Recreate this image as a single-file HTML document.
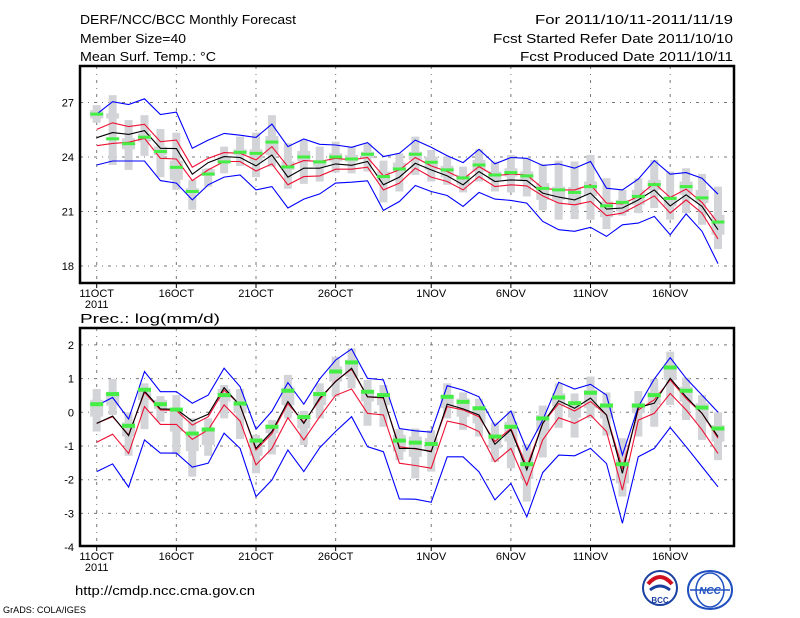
<!DOCTYPE html>
<html><head><meta charset="utf-8"><style>
html,body{margin:0;padding:0;background:#fff;}
svg{display:block;font-family:"Liberation Sans",sans-serif;}
</style></head><body>
<svg id="c" width="800" height="618" viewBox="0 0 800 618" xmlns="http://www.w3.org/2000/svg">
<rect width="800" height="618" fill="#fff"/>
<text x="80" y="24" font-size="13" textLength="216" lengthAdjust="spacingAndGlyphs">DERF/NCC/BCC Monthly Forecast</text>
<text x="80" y="43" font-size="13" textLength="106" lengthAdjust="spacingAndGlyphs">Member Size=40</text>
<text x="80" y="61" font-size="13" textLength="136" lengthAdjust="spacingAndGlyphs">Mean Surf. Temp.: °C</text>
<text x="535" y="24" font-size="13" textLength="198" lengthAdjust="spacingAndGlyphs">For 2011/10/11-2011/11/19</text>
<text x="493" y="43" font-size="13" textLength="240" lengthAdjust="spacingAndGlyphs">Fcst Started Refer Date 2011/10/10</text>
<text x="520" y="61" font-size="13" textLength="213" lengthAdjust="spacingAndGlyphs">Fcst Produced Date 2011/10/11</text>
<text x="80" y="323" font-size="13" textLength="140" lengthAdjust="spacingAndGlyphs">Prec.: log(mm/d)</text>
<text x="75" y="595" font-size="13" textLength="180" lengthAdjust="spacingAndGlyphs">http://cmdp.ncc.cma.gov.cn</text>
<text x="3" y="613" font-size="9" textLength="83" lengthAdjust="spacingAndGlyphs">GrADS: COLA/IGES</text>
<g>
<circle cx="660" cy="588" r="17" fill="#fff" stroke="#1a3fa0" stroke-width="2"/>
<path d="M648 584 q12 -14 24 0" fill="none" stroke="#d01020" stroke-width="4"/>
<path d="M650 590 q10 -8 20 0" fill="none" stroke="#1a3fa0" stroke-width="3"/>
<text x="660" y="603" font-size="8" font-weight="bold" text-anchor="middle" fill="#1a3fa0">BCC</text>
</g>
<g>
<ellipse cx="710" cy="590" rx="22" ry="19" fill="#fff" stroke="#2050c0" stroke-width="2"/>
<ellipse cx="710" cy="590" rx="14" ry="17" fill="none" stroke="#2050c0" stroke-width="1.5"/>
<line x1="690" y1="590" x2="730" y2="590" stroke="#2050c0" stroke-width="1.5"/>
<text x="710" y="594" font-size="10" font-weight="bold" font-style="italic" text-anchor="middle" fill="#2050c0">NCC</text>
</g>
</svg>
<script>
// ---------- temperature data ----------
const tBlueUp=[26.36,27.04,26.89,27.2,26.34,26.47,24.48,24.93,25.3,25.2,25.08,25.81,24.57,24.99,24.7,24.66,24.53,24.79,24.02,24.2,24.93,24.53,24.07,23.69,24.42,23.62,23.97,23.93,23.53,23.62,23.38,23.75,22.28,22.19,22.78,23.8,23.05,23.14,22.83,21.95];
const tRedUp=[25.52,25.88,25.67,25.8,24.84,24.93,23.44,23.93,24.24,24.2,23.84,24.57,23.47,23.8,23.75,23.93,23.84,23.97,22.96,23.29,23.97,23.51,23.2,22.78,23.47,22.96,23.07,23.01,22.28,22.19,22.19,22.47,21.46,21.42,21.83,22.56,21.77,22.23,21.5,20.36];
const tMean=[25.06,25.34,25.24,25.45,24.48,24.46,23.05,23.69,24.02,23.97,23.51,24.11,22.89,23.38,23.38,23.62,23.54,23.75,22.47,22.89,23.65,23.29,22.96,22.47,23.2,22.65,22.74,22.7,22.01,21.79,21.64,22.01,21.13,21.19,21.64,22.19,21.31,21.92,21.28,20.0];
const tRedLow=[24.62,24.75,24.81,25.03,23.93,23.89,22.7,23.29,23.75,23.75,23.23,23.62,22.47,22.92,22.96,23.33,23.33,23.44,22.19,22.56,23.38,22.89,22.65,22.19,22.92,22.37,22.47,22.41,21.86,21.46,21.37,21.55,20.77,20.91,21.37,21.86,20.91,21.64,20.91,19.49];
const tBlueLow=[23.56,23.78,23.78,23.78,22.7,22.56,21.64,22.47,22.89,23.01,22.19,22.37,21.19,21.68,21.97,22.56,22.61,22.69,21.06,21.55,22.43,22.1,21.88,21.28,22.05,21.68,21.61,21.46,20.46,20.0,19.91,20.13,19.63,20.27,20.36,20.73,19.72,20.87,19.91,18.13];
const tGreen=[26.36,25.0,24.73,25.09,24.3,23.43,22.1,23.06,23.73,24.26,24.2,24.82,23.45,24.0,23.73,24.0,23.89,24.15,22.92,23.34,24.15,23.71,23.29,22.85,23.56,23.01,23.14,22.96,22.27,22.19,22.05,22.37,21.31,21.5,21.83,22.48,21.72,22.37,21.75,20.42];
const tMax=[26.85,27.4,26.03,26.3,25.54,25.34,22.74,23.38,24.57,25.12,25.34,26.3,24.75,24.93,24.57,24.84,24.57,24.75,23.8,24.2,25.12,24.39,24.02,23.47,24.42,23.75,24.11,23.93,23.62,23.8,23.75,24.11,22.83,22.19,22.83,23.84,23.2,23.38,23.07,22.37];
const tMin=[25.88,23.56,23.29,24.06,22.89,22.19,21.1,22.37,23.1,23.51,22.89,23.47,22.25,22.52,22.65,23.14,23.1,23.2,21.5,22.1,23.01,22.65,22.47,22.05,22.65,22.1,22.05,21.83,21.06,20.55,20.58,20.55,20.03,20.77,20.91,21.19,20.55,20.91,20.27,18.94];
const tQ3=[26.58,26.4,25.03,25.3,24.57,23.8,22.28,23.33,24.02,24.42,24.42,25.15,23.75,24.33,23.84,24.2,24.11,24.29,23.2,23.69,24.29,24.02,23.51,23.01,23.84,23.2,23.38,23.2,22.56,22.37,22.34,22.65,21.55,21.64,22.19,22.74,21.83,22.65,22.19,20.82];
const tQ1=[26.12,26.12,24.42,24.84,24.11,22.74,22.0,22.96,23.69,24.11,23.75,24.11,23.29,23.75,23.47,23.75,23.75,23.93,22.65,23.2,23.84,23.29,22.89,22.47,23.2,22.74,22.92,22.65,21.64,21.64,21.37,21.86,20.69,21.0,21.37,22.19,21.28,21.92,21.46,19.72];
const tTicks=[18,21,24,27];
// ---------- precipitation data ----------
const pBlueUp=[0.2,0.44,-0.2,1.21,0.61,0.61,0.27,0.51,1.31,0.76,-0.5,0.03,0.88,0.24,0.99,1.55,1.88,1.01,0.96,-0.48,-0.55,-0.59,0.79,0.66,0.46,-0.4,0.04,-1.12,-0.23,0.89,0.69,0.83,0.51,-1.27,0.17,0.99,1.62,1.01,0.51,0];
const pRedUp=[-0.33,-0.13,-0.67,0.59,0.07,0.05,-0.38,-0.13,0.66,0.22,-1.12,-0.63,0.26,-0.3,0.37,0.93,1.28,0.46,0.42,-1.02,-1.09,-1.15,0.17,0.07,-0.13,-0.87,-0.48,-1.61,-0.33,0.26,0.04,0.32,-0.08,-1.66,0.07,0.37,0.96,0.41,-0.03,-0.77];
const pMean=[-0.33,-0.11,-0.69,0.63,0.1,0.09,-0.26,-0.06,0.73,0.2,-1.07,-0.57,0.32,-0.33,0.42,0.91,1.31,0.46,0.44,-1.07,-1.07,-1.17,0.24,0.1,-0.08,-0.95,-0.52,-1.71,-0.33,0.34,0.12,0.42,-0.08,-1.81,0.14,0.27,1.01,0.46,-0.03,-0.72];
const pRedLow=[-0.89,-0.65,-1.22,0.17,-0.36,-0.36,-0.8,-0.52,0.22,-0.26,-1.56,-1.07,-0.16,-0.82,-0.13,0.5,0.69,-0.03,-0.08,-1.51,-1.58,-1.66,-0.26,-0.36,-0.57,-1.47,-1.07,-2.16,-0.82,-0.16,-0.33,-0.08,-0.57,-2.31,-0.23,-0.03,0.56,0.07,-0.52,-1.22];
const pBlueLow=[-1.76,-1.53,-2.22,-0.82,-1.21,-1.21,-1.63,-1.51,-0.62,-1.07,-2.5,-2.01,-1.12,-1.76,-1.05,-0.57,-0.13,-1.02,-1.17,-2.57,-2.58,-2.67,-1.32,-1.32,-1.77,-2.6,-2.11,-3.1,-1.79,-1.27,-1.29,-1.07,-1.52,-3.29,-1.32,-1.07,-0.45,-1.02,-1.61,-2.21];
const pGreen=[0.24,0.54,-0.4,0.67,0.24,0.08,-0.63,-0.51,0.51,0.26,-0.84,-0.43,0.64,-0.14,0.54,1.21,1.48,0.61,0.51,-0.84,-0.9,-0.94,0.46,0.31,0.12,-0.72,-0.43,-1.54,-0.18,0.44,0.27,0.58,0.2,-1.54,0.2,0.51,1.33,0.64,0.14,-0.48];
const pMax=[0.69,0.99,0,0.86,0.48,0.51,-0.18,-0.18,0.81,0.69,-0.67,-0.23,1.11,0.04,0.86,1.65,1.9,0.96,0.81,-0.5,-0.48,-0.53,0.86,0.59,0.4,-0.3,0.04,-0.95,0.2,0.86,0.56,1.06,0.59,-0.77,0.63,0.99,1.8,1.03,0.51,0];
const pMin=[-0.57,-0.08,-1.29,-0.5,-0.28,-1.24,-1.91,-1.29,-0.18,-0.79,-1.81,-1.25,-0.18,-0.97,-0.18,0.46,0.71,-0.4,-0.43,-1.42,-1.96,-1.76,-0.18,-0.52,-0.72,-1.47,-1.66,-2.65,-1.34,-0.46,-0.75,-0.18,-0.69,-2.5,-0.72,-0.43,0.22,-0.23,-0.82,-1.42];
const pQ3=[0.37,0.61,-0.3,0.71,0.37,0.1,-0.59,-0.46,0.69,0.33,-0.77,-0.36,0.73,-0.03,0.61,1.36,1.56,0.66,0.56,-0.67,-0.72,-0.77,0.51,0.41,0.17,-0.67,-0.28,-1.22,-0.08,0.56,0.32,0.66,0.27,-1.39,0.27,0.61,1.41,0.76,0.27,-0.38];
const pQ1=[-0.13,0.2,-0.72,0.36,0.1,-0.57,-1.15,-0.97,0.32,-0.03,-1.29,-0.62,0.21,-0.48,0.21,0.91,1.06,0.32,0.21,-1.17,-1.32,-1.12,0.12,-0.13,-0.33,-1.07,-0.87,-1.98,-0.57,0.17,-0.16,0.12,-0.18,-2.11,-0.03,0.22,0.96,0.32,-0.3,-0.87];
const pTicks=[-4,-3,-2,-1,0,1,2];
// ---------- shared x axis ----------
const dateLabels=['11OCT','16OCT','21OCT','26OCT','1NOV','6NOV','11NOV','16NOV'];
const dateDays=[0,5,10,15,21,26,31,36];

const NS='http://www.w3.org/2000/svg';
const svg=document.getElementById('c');
function mk(tag,attrs,parent){const e=document.createElementNS(NS,tag);for(const k in attrs)e.setAttribute(k,attrs[k]);(parent||svg).appendChild(e);return e;}
function xDay(d){return 96.7+d*15.93;}

function panel(cfg){
  const g=mk('g',{});
  
  
  const L=80,R=734,T=cfg.top,B=cfg.bottom;
  const y=v=>cfg.y0-(v-cfg.v0)*cfg.k;
  cfg.ticks.forEach(t=>{
    const yy=y(t);
    if(yy>T+2&&yy<B-2){const l=mk('line',{x1:L,x2:R,y1:yy,y2:yy,stroke:'#777','stroke-width':1,'stroke-dasharray':'3,5,1,5'},g);
    
    }
    const tx=mk('text',{x:L-6,y:yy+4,'font-size':11,'text-anchor':'end'},g);
    tx.textContent=String(t);
    
    
  });
  dateDays.forEach((d,i)=>{
    const xx=xDay(d);
    const l=mk('line',{x1:xx,x2:xx,y1:T,y2:B,stroke:'#777','stroke-width':1,'stroke-dasharray':'3,5,1,5'},g);
    
    
    mk('line',{x1:xx,x2:xx,y1:B,y2:B+5,stroke:'#000','stroke-width':1},g);
    const tx=mk('text',{x:xx,y:B+14,'font-size':11,'text-anchor':'middle'},g);
    tx.textContent=dateLabels[i];
    
    
  });
  const yr=mk('text',{x:xDay(0),y:B+25,'font-size':11,'text-anchor':'middle'},g);
  yr.textContent='2011';
  
  
  for(let i=0;i<cfg.max.length;i++){
    const xx=xDay(i);
    const a=mk('rect',{x:xx-4,y:y(cfg.max[i]),width:8,height:Math.max(1,y(cfg.min[i])-y(cfg.max[i])),fill:'#d3d4d8'},g);
    
    
    const b=mk('rect',{x:xx-6.5,y:y(cfg.q3[i]),width:13,height:Math.max(1,y(cfg.q1[i])-y(cfg.q3[i])),fill:'#d3d4d8'},g);
    
    
  }
  [[cfg.blueLow,'#0000ff','lower-bound-line'],[cfg.blueUp,'#0000ff','upper-bound-line'],[cfg.redLow,'#ee1133','lower-spread-line'],[cfg.redUp,'#ee1133','upper-spread-line'],[cfg.mean,'#000','ensemble-mean-line']].forEach(s=>{
    const pts=s[0].map((v,i)=>xDay(i).toFixed(1)+','+y(v).toFixed(1)).join(' ');
    const p=mk('polyline',{points:pts,fill:'none',stroke:s[1],'stroke-width':1.1},g);
    
    
  });
  cfg.green.forEach((v,i)=>{
    const r=mk('rect',{x:xDay(i)-6.5,y:y(v)-cfg.gh/2,width:13,height:cfg.gh,fill:'#44ee44'},g);
    
    
  });
  const fr=mk('rect',{x:L,y:T,width:R-L,height:B-T,fill:'none',stroke:'#000','stroke-width':2.5},g);
  
  
}
panel({name:'temperature-panel',top:66,bottom:283,y0:266,v0:18,k:18.17,ticks:tTicks,
  blueUp:tBlueUp,redUp:tRedUp,mean:tMean,redLow:tRedLow,blueLow:tBlueLow,green:tGreen,max:tMax,min:tMin,q3:tQ3,q1:tQ1,gh:3});
panel({name:'precipitation-panel',top:328,bottom:546,y0:412.3,v0:0,k:33.7,ticks:pTicks,
  blueUp:pBlueUp,redUp:pRedUp,mean:pMean,redLow:pRedLow,blueLow:pBlueLow,green:pGreen,max:pMax,min:pMin,q3:pQ3,q1:pQ1,gh:4});
</script>
</body></html>
